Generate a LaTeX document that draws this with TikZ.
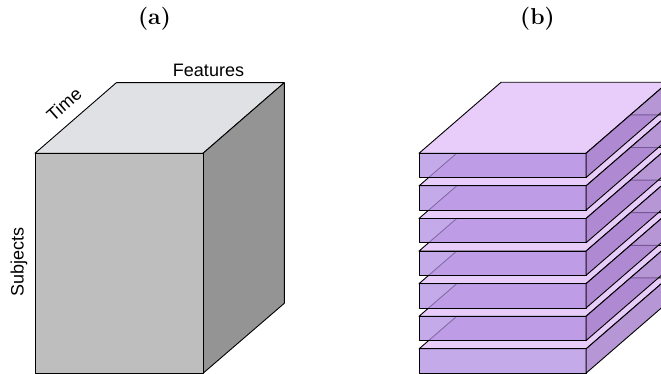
\documentclass[tikz,border=0pt]{standalone}
\usepackage{fontspec}
\newfontfamily\lsans{Liberation Sans}
\definecolor{cubetop}{RGB}{224,225,228}
\definecolor{cubefront}{RGB}{190,190,190}
\definecolor{cubeside}{RGB}{148,148,148}
\definecolor{slabtop}{RGB}{232,205,250}
\definecolor{slabfront}{RGB}{176,142,224}
\definecolor{slabside}{RGB}{158,115,198}
\tikzset{
  edge/.style={draw=black, line width=0.9pt, line join=round},
  axislabel/.style={font=\lsans\fontsize{18}{20}\selectfont, inner sep=0pt},
  panellabel/.style={font=\bfseries\fontsize{23}{25}\selectfont, inner sep=0pt},
  slabtopface/.style={edge, fill=slabtop},
  slabfrontface/.style={edge, fill=slabfront, fill opacity=0.75},
  slabsideface/.style={edge, fill=slabside, fill opacity=0.75}
}
\begin{document}
\begin{tikzpicture}[x=1pt,y=-1pt]
\useasboundingbox (0,0) rectangle (661,374);
\clip (0,0) rectangle (661,374);
% panel labels
\node[panellabel] (la) at (154.5,19) {(a)};
\node[panellabel] (lb) at (537.5,19) {(b)};
% cube (a)
\coordinate (f1) at (35,153.3);
\coordinate (f2) at (203,153.3);
\coordinate (f3) at (203,373.3);
\coordinate (f4) at (35,373.3);
\coordinate (b1) at (116.3,82.7);
\coordinate (b2) at (284.3,82.7);
\coordinate (b3) at (284.3,303.3);
\draw[edge, fill=cubetop] (f1) -- (b1) -- (b2) -- (f2) -- cycle;
\draw[edge, fill=cubeside] (f2) -- (b2) -- (b3) -- (f3) -- cycle;
\draw[edge, fill=cubefront] (f1) -- (f2) -- (f3) -- (f4) -- cycle;
\node[axislabel, anchor=base] (feat) at (208.5,76.7) {Features};
\node[axislabel, rotate=41.2] (time) at (64,104.5) {Time};
\node[axislabel, rotate=90] (subj) at (19,262) {Subjects};
% slabs (b)
\foreach \k in {6,5,...,0}{
  \pgfmathsetmacro{\T}{153.3+32.6*\k}
  \pgfmathsetmacro{\B}{\T+24.3}
  \pgfmathsetmacro{\Tb}{\T-71}
  \pgfmathsetmacro{\Bb}{\B-71}
  \draw[slabtopface] (419,\T) -- (501,\Tb) -- (668,\Tb) -- (586,\T) -- cycle;
  \draw[slabfrontface] (419,\T) rectangle (586,\B);
  \draw[slabsideface] (586,\T) -- (668,\Tb) -- (668,\Bb) -- (586,\B) -- cycle;
}
\end{tikzpicture}
\end{document}
